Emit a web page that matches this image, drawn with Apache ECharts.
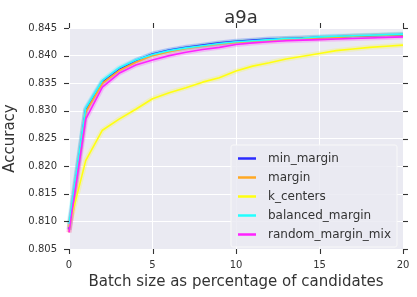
<!DOCTYPE html>
<html><head><meta charset="utf-8">
<script src="https://cdn.jsdelivr.net/npm/echarts@6/dist/echarts.min.js"></script>
<style>html,body{margin:0;padding:0;background:#fff}#c{width:417px;height:297px}</style>
</head><body><div id="c"></div>
<script>
const batchPct = [0,1,2,3,4,5,6,7,8,9,10,11,12,13,14,15,16,17,18,19,20];
const minMargin = [0.8085,0.8302,0.8352,0.8375,0.8391,0.8403,0.8410,0.8415,0.8419,0.8423,0.8426,0.8428,0.8430,0.8431,0.8432,0.8433,0.8434,0.8435,0.8436,0.8437,0.8438];
const margin = [0.8080,0.8298,0.8350,0.8373,0.8388,0.8400,0.8407,0.8413,0.8417,0.8421,0.8424,0.8426,0.8428,0.8430,0.8431,0.8432,0.8433,0.8435,0.8436,0.8437,0.8438];
const kCenters = [0.8090,0.8210,0.8265,0.8285,0.8303,0.8322,0.8333,0.8342,0.8352,0.8360,0.8372,0.8381,0.8387,0.8394,0.8399,0.8404,0.8409,0.8412,0.8415,0.8417,0.8419];
const balancedMargin = [0.8095,0.8305,0.8355,0.8378,0.8392,0.8402,0.8409,0.8414,0.8418,0.8422,0.8425,0.8427,0.8429,0.8431,0.8432,0.8434,0.8435,0.8436,0.8437,0.8438,0.8439];
const randomMarginMix = [0.8080,0.8285,0.8343,0.8368,0.8383,0.8392,0.8400,0.8406,0.8411,0.8415,0.8420,0.8423,0.8425,0.8427,0.8428,0.8429,0.8430,0.8431,0.8432,0.8433,0.8434];
const seriesNames = ['min_margin','margin','k_centers','balanced_margin','random_margin_mix'];
const seriesColors = ['#2b2bff','#ffa824','#ffff10','#22ffff','#ff22ff'];
const yTicks = [0.805,0.810,0.815,0.820,0.825,0.830,0.835,0.840,0.845];
const xTicks = [0,5,10,15,20];

const X_MIN = 0, X_MAX = 20, Y_MIN = 0.805, Y_MAX = 0.845;
const allData = [minMargin, margin, kCenters, balancedMargin, randomMarginMix];
const font = 'DejaVu Sans';
const series = [];
allData.forEach((d,i)=>{
  const pts = batchPct.map((x,j)=>[x,d[j]]);
  series.push({name: seriesNames[i]+'_band', type:'line', data: pts, symbol:'none', silent:true,
    lineStyle:{color: seriesColors[i], width:5, opacity:0.22}, z: 2});
  series.push({name: seriesNames[i], type:'line', data: pts, symbol:'none',
    itemStyle:{color: seriesColors[i]},
    lineStyle:{color: seriesColors[i], width:1.6}, z: 3});
});

// outward tick marks on all four sides, positioned through the axes' own scales
const tickData = [];
xTicks.forEach(x=>{ tickData.push([x, Y_MIN, 0]); tickData.push([x, Y_MAX, 1]); });
yTicks.forEach(y=>{ tickData.push([X_MIN, y, 2]); tickData.push([X_MAX, y, 3]); });
const TICK_LEN = 5;
const dirs = [[0,1],[0,-1],[-1,0],[1,0]];
series.push({
  name:'ticks', type:'custom', data: tickData, clip:false, silent:true, z: 5,
  encode:{x:0, y:1},
  renderItem:(params, api)=>{
    const p = api.coord([api.value(0), api.value(1)]);
    const dv = dirs[api.value(2)];
    const x = Math.round(p[0]) + (dv[0] === 0 ? 0.5 : 0);
    const y = Math.round(p[1]) + (dv[1] === 0 ? 0.5 : 0);
    return {type:'line', shape:{x1:x, y1:y, x2:x + dv[0]*TICK_LEN, y2:y + dv[1]*TICK_LEN},
      style:{stroke:'#333', lineWidth:1.1}};
  }
});

const chart = echarts.init(document.getElementById('c'), null, {renderer:'canvas'});
chart.setOption({
  animation:false,
  backgroundColor:'#fff',
  tooltip:{show:false},
  title:{text:'a9a', left:236, top:4, textAlign:'center',
    textStyle:{fontFamily:font, fontSize:18, fontWeight:'normal', color:'#333'}},
  grid:{left:69, right:14, top:28, bottom:48, show:true, backgroundColor:'#eaeaf2', borderWidth:0,
    containLabel:false, outerBoundsMode:'none'},
  legend:{
    data: seriesNames, orient:'vertical', left:231, top:145,
    icon:'rect', itemWidth:18, itemHeight:2.5, itemGap:6,
    padding:[7,6,6,7],
    backgroundColor:'rgba(234,234,242,0.85)', borderColor:'#f8f8f8', borderWidth:1, borderRadius:2,
    textStyle:{fontFamily:font, fontSize:12, color:'#333', lineHeight:13, padding:[0,0,0,7]}
  },
  xAxis:{
    type:'value', min:X_MIN, max:X_MAX, interval:5,
    name:'Batch size as percentage of candidates', nameLocation:'middle', nameGap:26,
    nameTextStyle:{fontFamily:font, fontSize:15, color:'#333'},
    axisLine:{show:false}, axisTick:{show:false},
    axisLabel:{fontFamily:font, fontSize:10, color:'#333', margin:11},
    splitLine:{show:true, lineStyle:{color:'#fff', width:1}}
  },
  yAxis:{
    type:'value', min:Y_MIN, max:Y_MAX, interval:0.005,
    name:'Accuracy', nameLocation:'middle', nameGap:44, nameRotate:90,
    nameTextStyle:{fontFamily:font, fontSize:15, color:'#333'},
    axisLine:{show:false}, axisTick:{show:false},
    axisLabel:{fontFamily:font, fontSize:10, color:'#333', margin:12, formatter:v=>v.toFixed(3)},
    splitLine:{show:true, lineStyle:{color:'#fff', width:1}}
  },
  series: series
});
</script></body></html>
